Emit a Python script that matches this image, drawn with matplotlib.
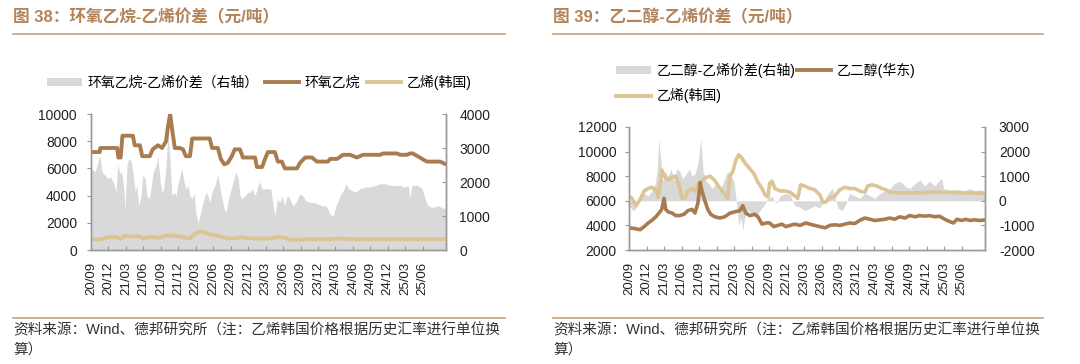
import matplotlib
matplotlib.use('Agg')
import matplotlib.pyplot as plt
from matplotlib.patches import Patch
from matplotlib.lines import Line2D
import numpy as np

plt.rcParams['font.family'] = ['Liberation Sans', 'Noto Sans CJK SC']
plt.rcParams['axes.unicode_minus'] = False

# ---------------- data (x = months since 2020-09) ----------------
quarter_labels = ['20/09', '20/12', '21/03', '21/06', '21/09', '21/12', '22/03', '22/06',
                  '22/09', '22/12', '23/03', '23/06', '23/09', '23/12', '24/03', '24/06',
                  '24/09', '24/12', '25/03', '25/06']

# Chart 38: ethylene oxide (left axis)
eo_m = [0, 1.5, 1.6, 4.5, 4.7, 5.1, 5.4, 7.2, 7.5, 8.4,
        8.8, 10.1, 10.6, 11.5, 12.2, 12.9, 13.2, 13.6, 13.9, 14.4,
        15.3, 15.8, 16.3, 17.0, 17.4, 20.4, 20.8, 21.8, 22.3, 22.9,
        23.5, 24.2, 24.7, 25.6, 26.1, 28.2, 28.5, 29.4, 29.9, 30.4,
        31.6, 32.1, 32.8, 33.3, 35.4, 35.9, 36.8, 38.0, 38.8, 40.7,
        41.1, 42.3, 43.3, 44.5, 45.7, 46.7, 49.7, 50.2, 52.6, 53.1,
        54.3, 54.8, 55.3, 56.5, 57.7, 60.0, 61.0]
eo_v = [7200, 7200, 7500, 7500, 6800, 6800, 8400, 8400, 7700, 7700,
        6900, 6900, 7400, 7700, 7500, 8000, 9000, 10000, 9000, 7500,
        7500, 7400, 6900, 6900, 8200, 8200, 7500, 7500, 6700, 6300,
        6400, 6900, 7400, 7400, 6800, 6800, 6100, 6100, 6700, 7200,
        7200, 6500, 6500, 6000, 6000, 6400, 6800, 6800, 6500, 6500,
        6700, 6700, 7000, 7000, 6800, 7000, 7000, 7100, 7100, 7000,
        7000, 7100, 7100, 6800, 6500, 6500, 6300]

# Chart 38: ethylene (Korea) (left axis)
eth1_m = [0, 0.7, 1.5, 2.4, 3.3, 4.5, 5.0, 5.8, 6.7, 8.4,
          8.9, 9.8, 11.0, 11.9, 12.7, 13.9, 15.3, 16.2, 17.0, 17.9,
          18.7, 19.6, 20.4, 22.2, 23.5, 24.7, 25.6, 27.3, 30.8, 32.1,
          33.3, 34.2, 35.9, 37.6, 41.1, 42.8, 44.5, 53.1, 61.0]
eth1_v = [850, 800, 750, 900, 950, 950, 800, 1050, 1000, 1000,
          850, 950, 950, 900, 1050, 1050, 1000, 900, 850, 1200,
          1350, 1300, 1150, 1000, 850, 850, 950, 850, 850, 950,
          900, 750, 750, 800, 800, 850, 800, 800, 800]

# Chart 38: EO - ethylene spread (right axis)
sp1_m = [0, 0.7, 1.2, 1.5, 1.9, 2.4, 2.9, 3.4, 4.0, 4.3,
         4.6, 5.0, 5.3, 5.7, 5.8, 6.2, 6.5, 6.9, 7.2, 7.6,
         7.9, 8.2, 8.6, 8.9, 9.3, 9.6, 10.0, 10.3, 10.7, 11.2,
         11.5, 11.9, 12.2, 12.5, 12.9, 13.2, 13.6, 13.9, 14.3, 14.6,
         14.9, 15.3, 15.6, 16.0, 16.3, 16.7, 17.0, 17.4, 17.7, 18.0,
         18.4, 18.7, 19.1, 19.4, 19.8, 20.1, 20.4, 20.8, 21.3, 21.8,
         22.2, 22.5, 22.9, 23.2, 23.5, 23.9, 24.4, 24.9, 25.3, 25.6,
         25.9, 26.5, 27.0, 27.3, 27.7, 28.2, 28.7, 29.0, 29.4, 29.9,
         30.4, 30.9, 31.4, 31.6, 32.0, 32.5, 32.8, 33.3, 33.7, 34.2,
         34.7, 35.2, 35.9, 36.4, 36.9, 37.6, 38.3, 39.0, 39.7, 40.4,
         41.1, 41.6, 42.1, 42.8, 43.5, 43.8, 44.3, 44.8, 45.5, 46.2,
         47.1, 47.9, 48.8, 49.7, 50.5, 51.4, 52.2, 53.1, 53.9, 54.5,
         54.8, 55.1, 56.2, 56.9, 57.4, 57.9, 58.6, 59.6, 60.3, 61.0]
sp1_v = [2400, 2300, 2600, 2800, 2300, 2200, 2100, 2150, 1900, 1700,
         2500, 2250, 2300, 1700, 1150, 2500, 2700, 2600, 2300, 1700,
         1900, 1300, 1600, 2200, 2100, 1600, 1500, 1800, 2300, 2500,
         2750, 2000, 1700, 1800, 2500, 3500, 2600, 1600, 1700, 1600,
         1900, 2200, 2400, 2000, 1800, 1900, 1600, 1500, 1700, 1100,
         800, 1000, 1300, 1500, 1700, 1600, 1400, 1700, 1900, 2200,
         1800, 1500, 1200, 1100, 1400, 1700, 2000, 2300, 2100, 1600,
         1500, 1600, 1700, 1700, 1800, 1600, 1900, 2000, 1800, 1800,
         1800, 1800, 1200, 1000, 1500, 1400, 1600, 1300, 1600, 1500,
         1300, 1400, 1650, 1600, 1450, 1400, 1400, 1350, 1300, 1300,
         1050, 1000, 1300, 1600, 1800, 1950, 1800, 1750, 1700, 1800,
         1850, 1850, 1900, 1950, 1950, 1900, 1900, 1900, 1850, 1900,
         1500, 1900, 1900, 1800, 1500, 1300, 1250, 1300, 1250, 1200]

# Chart 39: MEG (East China) (left axis)
meg_m = [0, 0.9, 1.9, 2.6, 3.3, 3.9, 4.6, 5.3, 5.6, 6.0,
         6.3, 6.7, 7.4, 8.0, 8.7, 9.4, 10.1, 10.8, 11.3, 11.8,
         12.2, 12.5, 13.0, 13.5, 14.0, 14.7, 15.6, 16.4, 17.3, 18.1,
         19.0, 19.5, 20.0, 20.7, 21.6, 22.1, 22.8, 23.5, 24.1, 24.8,
         25.5, 26.2, 26.9, 27.6, 28.4, 29.3, 30.3, 31.0, 31.8, 32.7,
         33.6, 34.4, 35.3, 36.1, 37.0, 37.8, 38.7, 39.5, 40.4, 41.3,
         42.1, 43.0, 43.8, 44.7, 45.5, 46.4, 47.3, 48.1, 49.0, 49.8,
         50.7, 51.5, 52.4, 53.2, 54.1, 55.0, 55.6, 56.2, 57.0, 57.7,
         58.4, 59.2, 60.1, 61.0]
meg_v = [3800, 3750, 3650, 3900, 4200, 4400, 4700, 5100, 5300, 6200,
         5300, 5100, 5000, 4800, 4800, 4900, 5200, 5300, 5000, 5800,
         7500, 6800, 6000, 5300, 4900, 4700, 4600, 4700, 5000, 5100,
         5200, 5600, 5000, 4800, 4900, 4700, 4100, 4200, 4200, 3900,
         4000, 4100, 3900, 4000, 4100, 4000, 4200, 4100, 4000, 3900,
         3800, 4000, 4050, 4000, 4100, 4200, 4150, 4400, 4600, 4500,
         4400, 4450, 4500, 4600, 4500, 4700, 4600, 4800, 4700, 4800,
         4750, 4800, 4700, 4750, 4500, 4300, 4200, 4500, 4400, 4500,
         4400, 4450, 4400, 4450]

# Chart 39: ethylene (Korea) (left axis)
eth2_m = [0, 0.5, 1.2, 1.9, 2.6, 3.3, 3.9, 4.6, 5.0, 5.3,
          5.6, 6.2, 6.7, 7.4, 8.0, 8.6, 9.1, 9.6, 10.1, 10.8,
          11.3, 11.8, 12.5, 13.2, 13.9, 14.6, 15.2, 15.9, 16.6, 16.9,
          17.3, 17.8, 18.3, 18.8, 19.3, 20.0, 20.7, 21.4, 22.1, 22.8,
          23.3, 23.8, 24.1, 24.5, 25.0, 25.9, 26.7, 27.6, 28.4, 28.9,
          29.4, 30.1, 31.0, 31.8, 32.7, 33.2, 33.7, 34.4, 35.3, 36.1,
          37.0, 37.8, 38.7, 39.5, 40.4, 40.9, 41.6, 42.5, 43.3, 44.0,
          44.7, 46.4, 48.1, 49.8, 51.5, 53.2, 55.0, 56.7, 58.4, 61.0]
eth2_v = [6400, 6200, 5600, 6100, 6800, 7000, 7100, 6900, 6300, 7200,
          8500, 7900, 7700, 7900, 8000, 7200, 6200, 6200, 6800, 7000,
          6800, 7300, 7600, 7900, 8000, 7700, 7300, 6800, 6400, 6200,
          8000, 8400, 9300, 9750, 9500, 9000, 8600, 8200, 7500, 7000,
          6500, 6300, 7400, 7600, 7000, 6800, 6800, 6700, 6400, 6200,
          7300, 7200, 7000, 6900, 6500, 5900, 5900, 6200, 6400, 6900,
          7100, 7000, 7000, 6800, 6700, 7200, 7300, 7200, 7000, 6900,
          6700, 6650, 6650, 6650, 6700, 6700, 6700, 6650, 6650, 6600]

# Chart 39: MEG - ethylene spread (right axis)
sp2_m = [0, 0.7, 1.2, 1.9, 2.6, 3.3, 3.9, 4.5, 4.8, 5.1,
         5.5, 5.8, 6.2, 6.7, 7.2, 7.7, 8.2, 8.7, 9.2, 9.8,
         10.3, 10.8, 11.3, 11.8, 12.3, 12.7, 13.2, 13.7, 14.2, 14.9,
         15.4, 15.9, 16.4, 16.9, 17.5, 18.0, 18.5, 18.8, 19.2, 19.5,
         19.9, 20.4, 21.1, 21.7, 22.4, 23.1, 23.8, 24.5, 25.2, 25.9,
         26.7, 27.6, 28.4, 29.3, 30.1, 31.0, 31.8, 32.7, 33.6, 34.1,
         34.8, 35.3, 35.8, 36.5, 37.2, 37.8, 38.7, 39.5, 40.4, 41.3,
         42.1, 43.0, 43.8, 44.7, 45.5, 46.4, 47.3, 48.1, 49.0, 49.8,
         50.7, 51.5, 52.4, 53.2, 53.6, 53.9, 55.0, 55.8, 56.7, 57.5,
         58.4, 59.2, 60.1, 61.0]
sp2_v = [-200, -400, -300, 200, 300, 200, 400, 700, 1200, 2500,
         1500, 800, 1200, 1000, 1300, 800, 1300, 1200, 900, 1100,
         1300, 1000, 1100, 1500, 2500, 1200, 800, 700, 500, 700,
         400, 600, 900, 1200, 1000, 800, -300, -1000, -700, -1200,
         -600, -400, -500, -700, -400, -200, 100, 200, -100, 200,
         300, 250, -200, -250, -400, -300, -200, -300, 100, 300,
         500, 200, -300, -400, -100, 300, 200, 100, 300, 200,
         100, 300, 400, 500, 700, 800, 600, 500, 700, 850,
         600, 800, 600, 850, 900, 500, 400, 450, 450, 400,
         500, 400, 450, 400]

# ---------------- styles ----------------
BROWN = '#a97c50'
TAN = '#dcc594'
GRAY = '#d9d9d9'
TITLE_C = '#b3835a'
RULE_C = '#c9a27e'
SPINE_C = '#999999'
TXT_C = '#222222'

W, H = 1080, 364
fig = plt.figure(figsize=(W / 100, H / 100), dpi=100)


def px_axes(x0, y0, x1, y1):
    return fig.add_axes([x0 / W, 1 - y1 / H, (x1 - x0) / W, (y1 - y0) / H])


def hline(x0, x1, y):
    fig.add_artist(Line2D([x0 / W, x1 / W], [1 - y / H, 1 - y / H],
                          color=RULE_C, lw=1.2, transform=fig.transFigure))


def style_axes(ax, ax2, lpad, rpad):
    for a in (ax, ax2):
        a.spines['top'].set_visible(False)
        for s in ('left', 'right', 'bottom'):
            a.spines[s].set_color(SPINE_C)
            a.spines[s].set_linewidth(1.0)
    ax.set_xlim(0, 61)
    ticks = np.arange(len(quarter_labels)) * 3
    ax.set_xticks(ticks)
    ax.set_xticklabels(quarter_labels, rotation=90, fontsize=9.5, color=TXT_C)
    ax.tick_params(axis='x', direction='in', length=3, color=SPINE_C, pad=8.5)
    ax.tick_params(axis='y', direction='out', length=3, color=SPINE_C,
                   labelsize=10, labelcolor=TXT_C, pad=lpad)
    ax2.tick_params(axis='y', direction='in', length=3, color=SPINE_C,
                    labelsize=10, labelcolor=TXT_C, pad=rpad)
    ax.set_zorder(ax2.get_zorder() + 1)
    ax.patch.set_visible(False)


# ---------------- left chart ----------------
axL = px_axes(91, 114, 446, 250)
axL2 = axL.twinx()
axL2.fill_between(sp1_m, 0, sp1_v, color=GRAY, lw=0)
axL2.set_ylim(0, 4000)
axL2.set_yticks([0, 1000, 2000, 3000, 4000])
axL.plot(eth1_m, eth1_v, color=TAN, lw=2.8, solid_joinstyle='round')
axL.plot(eo_m, eo_v, color=BROWN, lw=2.8, solid_joinstyle='round')
axL.set_ylim(0, 10000)
axL.set_yticks([0, 2000, 4000, 6000, 8000, 10000])
style_axes(axL, axL2, 7, 9.5)

# ---------------- right chart ----------------
axR = px_axes(629, 127, 985, 250)
axR2 = axR.twinx()
axR2.fill_between(sp2_m, 0, sp2_v, color=GRAY, lw=0)
axR2.set_ylim(-2000, 3000)
axR2.set_yticks([-2000, -1000, 0, 1000, 2000, 3000])
axR.plot(eth2_m, eth2_v, color=TAN, lw=2.6, solid_joinstyle='round')
axR.plot(meg_m, meg_v, color=BROWN, lw=2.6, solid_joinstyle='round')
axR.set_ylim(2000, 12000)
axR.set_yticks([2000, 4000, 6000, 8000, 10000, 12000])
style_axes(axR, axR2, 6, 10)

# ---------------- titles & rules ----------------
fig.text(13 / W, 1 - 17 / H, '图 38：环氧乙烷-乙烯价差（元/吨）', fontsize=12,
         fontweight='bold', color=TITLE_C, va='center', ha='left')
fig.text(553 / W, 1 - 17 / H, '图 39：乙二醇-乙烯价差（元/吨）', fontsize=12,
         fontweight='bold', color=TITLE_C, va='center', ha='left')
hline(13, 505, 33.5)
hline(553, 1043, 33.5)
hline(13, 505, 318)
hline(553, 1043, 318)

# ---------------- legends ----------------
legL = fig.legend(
    handles=[Patch(facecolor=GRAY, edgecolor='none'),
             Line2D([], [], color=BROWN, lw=2.8),
             Line2D([], [], color=TAN, lw=2.8)],
    labels=['环氧乙烷-乙烯价差（右轴）', '环氧乙烷', '乙烯(韩国)'],
    loc='center left', bbox_to_anchor=(47 / W, 1 - 82 / H), ncol=3,
    frameon=False, fontsize=10, handlelength=2.5, handleheight=0.5,
    handletextpad=0.4, columnspacing=0.45, borderpad=0, borderaxespad=0)

legR = fig.legend(
    handles=[Patch(facecolor=GRAY, edgecolor='none'),
             Line2D([], [], color=TAN, lw=2.8),
             Line2D([], [], color=BROWN, lw=2.8)],
    labels=['乙二醇-乙烯价差(右轴)', '乙烯(韩国)', '乙二醇(华东)'],
    loc='center left', bbox_to_anchor=(616 / W, 1 - 83 / H), ncol=2,
    frameon=False, fontsize=10, handlelength=2.5, handleheight=0.5,
    handletextpad=0.4, columnspacing=0.1, labelspacing=0.75,
    borderpad=0, borderaxespad=0)

# ---------------- source notes ----------------
src = '资料来源：Wind、德邦研究所（注：乙烯韩国价格根据历史汇率进行单位换'
for x0 in (13, 553):
    fig.text(x0 / W, 1 - 330 / H, src, fontsize=10.5, color='#333333',
             va='center', ha='left')
    fig.text(x0 / W, 1 - 350 / H, '算）', fontsize=10.5, color='#333333',
             va='center', ha='left')

fig.savefig('out.png', dpi=100)
